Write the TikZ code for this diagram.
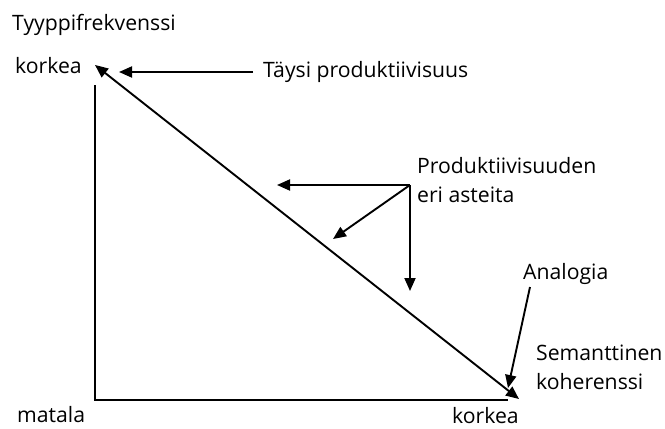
\documentclass[tikz,border=0pt]{standalone}
\usepackage{fontspec}
\setmainfont{Open Sans}
\usetikzlibrary{arrows.meta}
\begin{document}
\begin{tikzpicture}[x=1pt,y=-1pt,
  lbl/.style={inner sep=0pt,anchor=base west,font=\fontsize{21.2}{29}\selectfont},
  ax/.style={line width=1.9pt},
  tip/.style={Triangle[length=13pt,width=11pt]},
  arr/.style={line width=1.9pt,-{Triangle[length=13pt,width=11pt]}}]
\useasboundingbox (0,0) rectangle (665,429);
\coordinate (top) at (95,85);
\coordinate (orig) at (95,400);
\coordinate (xend) at (508,400);
\coordinate (hi) at (95,65);
\coordinate (lo) at (519,399);
\draw[ax] (top) -- (orig) -- (xend);
\draw[line width=1.9pt,{Triangle[length=13pt,width=11pt]}-{Triangle[length=13pt,width=11pt]}] (hi) -- (lo);
\node[lbl] (yl) at (12,30) {Tyyppifrekvenssi};
\node[lbl] (k1) at (15,73) {korkea};
\node[lbl] (m) at (17,422) {matala};
\node[lbl] (k2) at (452,423) {korkea};
\node[lbl] (tp) at (263,77) {Täysi produktiivisuus};
\node[lbl,align=left] (pe) at (417,202) {Produktiivisuuden\\eri asteita};
\node[lbl] (an) at (523,279) {Analogia};
\node[lbl,align=left] (sk) at (536,389) {Semanttinen\\koherenssi};
\coordinate (tps) at (253,72);
\coordinate (tpe) at (119,72);
\draw[arr] (tps) -- (tpe);
\coordinate (p0) at (410,185);
\coordinate (pa) at (277,185);
\coordinate (pb) at (333,239);
\coordinate (pc) at (410,291);
\draw[arr] (p0) -- (pa);
\draw[arr] (p0) -- (pb);
\draw[arr] (p0) -- (pc);
\coordinate (as) at (530,287);
\coordinate (ae) at (508,388);
\draw[arr] (as) -- (ae);
\end{tikzpicture}
\end{document}
